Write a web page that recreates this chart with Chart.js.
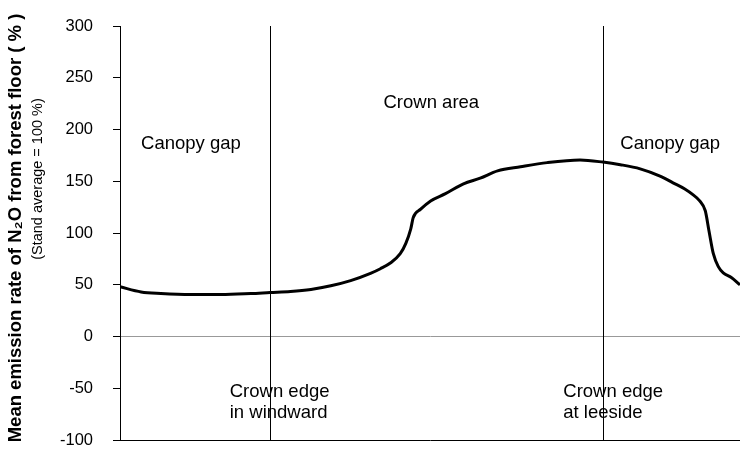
<!DOCTYPE html>
<html>
<head>
<meta charset="utf-8">
<script src="https://cdn.jsdelivr.net/npm/chart.js@4/dist/chart.umd.min.js"></script>
<style>
  html, body { margin: 0; padding: 0; background: #fff; }
  #wrap { width: 740px; height: 456px; }
</style>
</head>
<body>
<div id="wrap"><canvas id="myChart"></canvas></div>
<script>
// position along the transect (relative units, 0-100)
var positions = [0, 3.4, 6.6, 11.4, 16.3, 21.1, 24.2, 27.5, 30.8, 34.0, 37.2, 40.4, 42.0, 43.6, 45.2, 46.1,
	46.9, 47.3, 48.5, 50.1, 52.5, 55.4, 58.1, 60.9, 64.6, 68.9, 74.2, 77.9, 80.7, 83.9, 87.1, 89.2,
	91.1, 92.4, 93.5, 94.4, 95.0, 95.7, 96.5, 97.3, 98.6, 100];
// mean emission rate (% of stand average)
var emission = [48, 43, 41.5, 40.5, 40.5, 41.5, 42.5, 43.5, 45.5, 49, 54, 61, 65.5, 71, 80, 90,
	104, 115, 123, 131, 138, 147.5, 153, 160, 164, 168, 170.5, 168.5, 166, 162, 155, 148.5,
	142.5, 137, 131, 121.5, 102, 80, 67.5, 61.5, 57, 50];
var yTicks = [-100, -50, 0, 50, 100, 150, 200, 250, 300];

// crown edges
var edgeX = [24.2, 77.9];

// zone / edge labels (x, y in data units)
var noteText = ["Canopy gap", "Crown area", "Canopy gap", "Crown edge", "in windward", "Crown edge", "at leeside"];
var noteX = [3.4, 42.5, 80.7, 17.7, 17.7, 71.5, 71.5];
var noteY = [186, 226, 186, -54, -73.5, -54, -73.5];

var yTitle = "Mean emission rate of N\u2082O from forest floor ( % )";
var ySubTitle = "(Stand average = 100 %)";

var pts = [];
for (var i = 0; i < positions.length; i++) {
	pts.push({x: positions[i], y: emission[i]});
}

var FONT = "'Liberation Sans', Arial, sans-serif";

var overlay = {
	id: 'overlay',
	beforeDatasetsDraw: function(chart) {
		var c = chart.ctx, a = chart.chartArea, xs = chart.scales.x;
		c.save();
		c.strokeStyle = '#000';
		c.lineWidth = 1;
		for (var i = 0; i < edgeX.length; i++) {
			var px = Math.round(xs.getPixelForValue(edgeX[i])) + 0.5;
			c.beginPath();
			c.moveTo(px, a.top);
			c.lineTo(px, a.bottom);
			c.stroke();
		}
		c.restore();
	},
	afterDraw: function(chart) {
		var c = chart.ctx, xs = chart.scales.x, ys = chart.scales.y;
		c.save();
		c.fillStyle = '#000';
		c.font = "18.5px " + FONT;
		c.textAlign = 'left';
		c.textBaseline = 'middle';
		for (var i = 0; i < noteText.length; i++) {
			c.fillText(noteText[i], xs.getPixelForValue(noteX[i]), ys.getPixelForValue(noteY[i]));
		}
		// axis titles
		c.textAlign = 'center';
		c.translate(16, 228);
		c.rotate(-Math.PI / 2);
		c.font = "bold 18.5px " + FONT;
		c.fillText(yTitle, 0, 0);
		c.font = "14.5px " + FONT;
		c.fillText(ySubTitle, 49, 22);
		c.restore();
	}
};

function setup() {
	var ctx = document.getElementById('myChart').getContext('2d');
	var chart = new Chart(ctx, {
		type: 'line',
		data: {
			datasets: [{
				data: pts,
				borderColor: '#000',
				borderWidth: 3,
				pointRadius: 0,
				fill: false,
				cubicInterpolationMode: 'monotone'
			}]
		},
		options: {
			responsive: true,
			maintainAspectRatio: false,
			animation: false,
			layout: {padding: {top: 26, bottom: 16, left: 0, right: 0}},
			plugins: {legend: {display: false}, tooltip: {enabled: false}},
			scales: {
				x: {
					type: 'linear',
					min: 0,
					max: 100,
					ticks: {display: false},
					grid: {display: false, drawTicks: false},
					border: {display: true, color: '#000', width: 1},
					afterFit: function(scale) {
						scale.height = 0;
						scale.paddingLeft = 0; scale.paddingRight = 0;
					}
				},
				y: {
					min: -100,
					max: 300,
					afterBuildTicks: function(scale) {
						scale.ticks = yTicks.map(function(v) { return {value: v}; });
					},
					afterFit: function(scale) {
						scale.width = 120;
						scale.paddingTop = 0; scale.paddingBottom = 0;
					},
					ticks: {
						color: '#000',
						padding: 20,
						font: {family: FONT, size: 16.5}
					},
					grid: {
						color: function(c) { return c.tick && c.tick.value === 0 ? '#999' : 'rgba(0,0,0,0)'; },
						tickColor: '#000',
						tickLength: 7,
						drawTicks: true
					},
					border: {display: true, color: '#000', width: 1}
				}
			}
		},
		plugins: [overlay]
	});
}
window.onload = setup;
</script>
</body>
</html>
